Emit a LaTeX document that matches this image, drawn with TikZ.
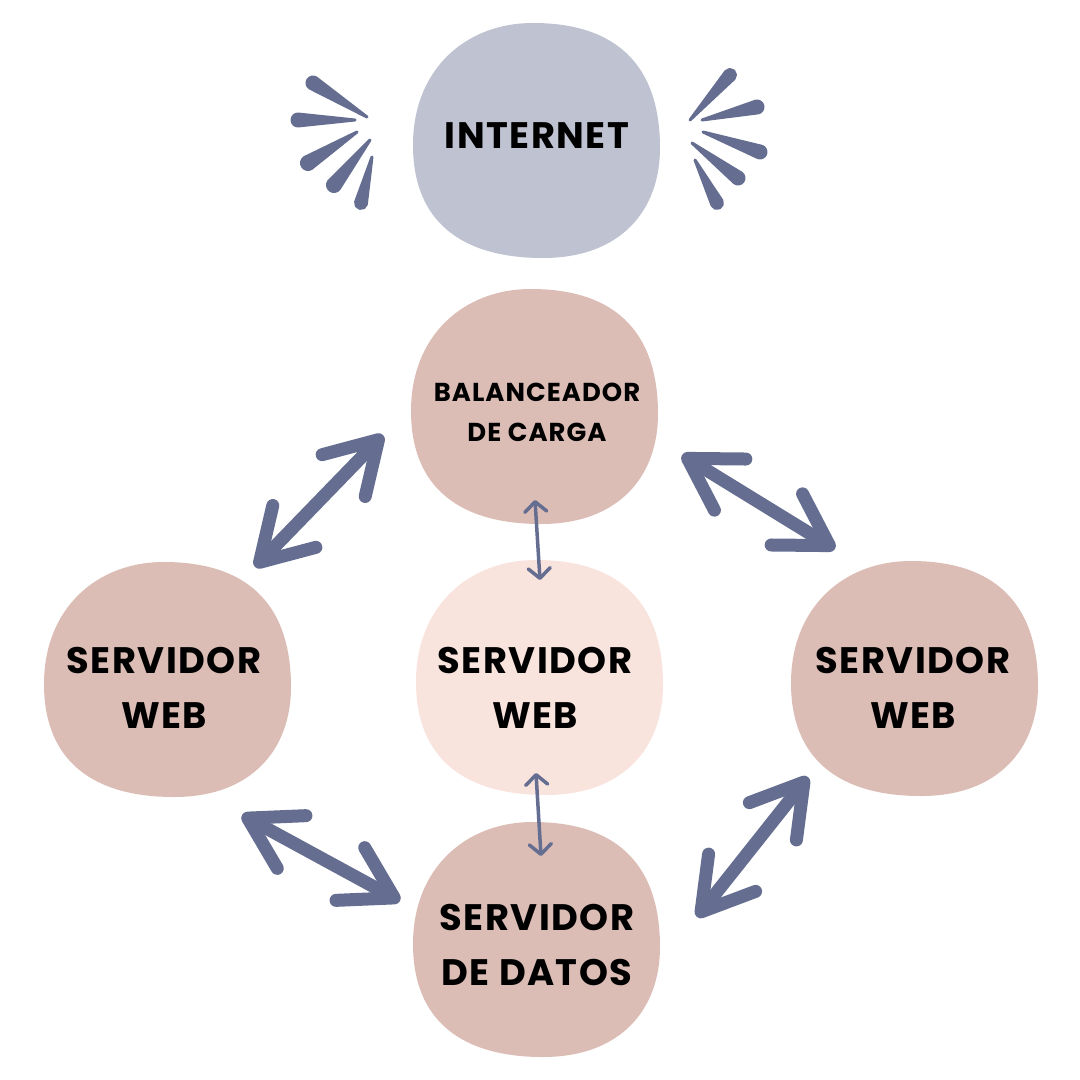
\documentclass[tikz,border=0pt]{standalone}
\usepackage{fontspec}
\newfontfamily\lblfont{Poppins}[LetterSpace=4]
\usetikzlibrary{arrows.meta,calc}
\definecolor{arrowc}{HTML}{656E91}
\definecolor{netc}{HTML}{BEC2D1}
\definecolor{rosec}{HTML}{DBBDB6}
\definecolor{palec}{HTML}{F9E3DD}
\newcommand\blobshape[2]{%
  \fill[#2,shift={(#1)}] (-4,-117) .. controls (76,-117) and (123,-78) .. (123,8)
    .. controls (123,70) and (84,118) .. (6,118)
    .. controls (-75,118) and (-124,82) .. (-124,5)
    .. controls (-124,-70) and (-72,-117) .. cycle;}
\newcommand\spark[3]{%
  \filldraw[arrowc, line width=3bp, line join=round]
    let \p1=($(#1)-(#2)$), \n1={atan2(\y1,\x1)} in
    ($(#2)+(\n1+90:#3)$) arc[start angle=\n1+90, end angle=\n1+270, radius=#3] -- (#1) -- cycle;}
\begin{document}
\begin{tikzpicture}[x=1bp,y=-1bp,
  big/.style={font=\lblfont\bfseries\fontsize{37}{55}\selectfont, align=center, inner sep=0pt, text=black},
  small/.style={font=\lblfont\bfseries\fontsize{26}{40}\selectfont, align=center, inner sep=0pt, text=black},
  bigarrow/.style={arrowc, line width=13bp, line cap=round,
    {Straight Barb[length=50bp,width=60bp,line width=13bp,round]}-{Straight Barb[length=50bp,width=60bp,line width=13bp,round]}},
  thinarrow/.style={arrowc, line width=3.5bp, line cap=round,
    {Straight Barb[length=10bp,width=22bp,line width=3.5bp,round]}-{Straight Barb[length=10bp,width=22bp,line width=3.5bp,round]}}]
\fill[white] (0,0) rectangle (1080,1080);
\useasboundingbox (0,0) rectangle (1080,1080);
% blobs
\blobshape{537,140}{netc}
\blobshape{535,406}{rosec}
\blobshape{168,679}{rosec}
\blobshape{540,677}{palec}
\blobshape{915,678}{rosec}
\blobshape{537,939}{rosec}
% labels
\node[big] (net) at (537,136) {INTERNET};
\node[small] (lb) at (537,412) {BALANCEADOR\\DE CARGA};
\node[big] (wl) at (164,688) {SERVIDOR\\WEB};
\node[big] (wc) at (535,688) {SERVIDOR\\WEB};
\node[big] (wr) at (913,688) {SERVIDOR\\WEB};
\node[big] (db) at (537,945) {SERVIDOR\\DE DATOS};
% connector end points
\coordinate (a1) at (255,567); \coordinate (a2) at (383,435);
\coordinate (b1) at (682,455); \coordinate (b2) at (835,549);
\coordinate (c1) at (242,815); \coordinate (c2) at (400,901);
\coordinate (d1) at (808,777); \coordinate (d2) at (697,917);
\coordinate (e1) at (535,500); \coordinate (e2) at (540,580);
\coordinate (f1) at (536,773); \coordinate (f2) at (541,856);
\draw[bigarrow] (a1) -- (a2);
\draw[bigarrow] (b1) -- (b2);
\draw[bigarrow] (c1) -- (c2);
\draw[bigarrow] (d1) -- (d2);
\draw[thinarrow] (e1) -- (e2);
\draw[thinarrow] (f1) -- (f2);
% sparkles
\spark{367,117}{313,83}{6bp}
\spark{355,120}{298,120}{6bp}
\spark{357,132}{308,163}{6.5bp}
\spark{370,140}{334,185}{6.5bp}
\spark{372,157}{361,203}{5.5bp}
\spark{690,120}{730,75}{5.5bp}
\spark{702,120}{757,107}{6bp}
\spark{703,132}{760,152}{6bp}
\spark{692,143}{738,178}{6bp}
\spark{695,160}{717,203}{5.5bp}
\end{tikzpicture}
\end{document}
